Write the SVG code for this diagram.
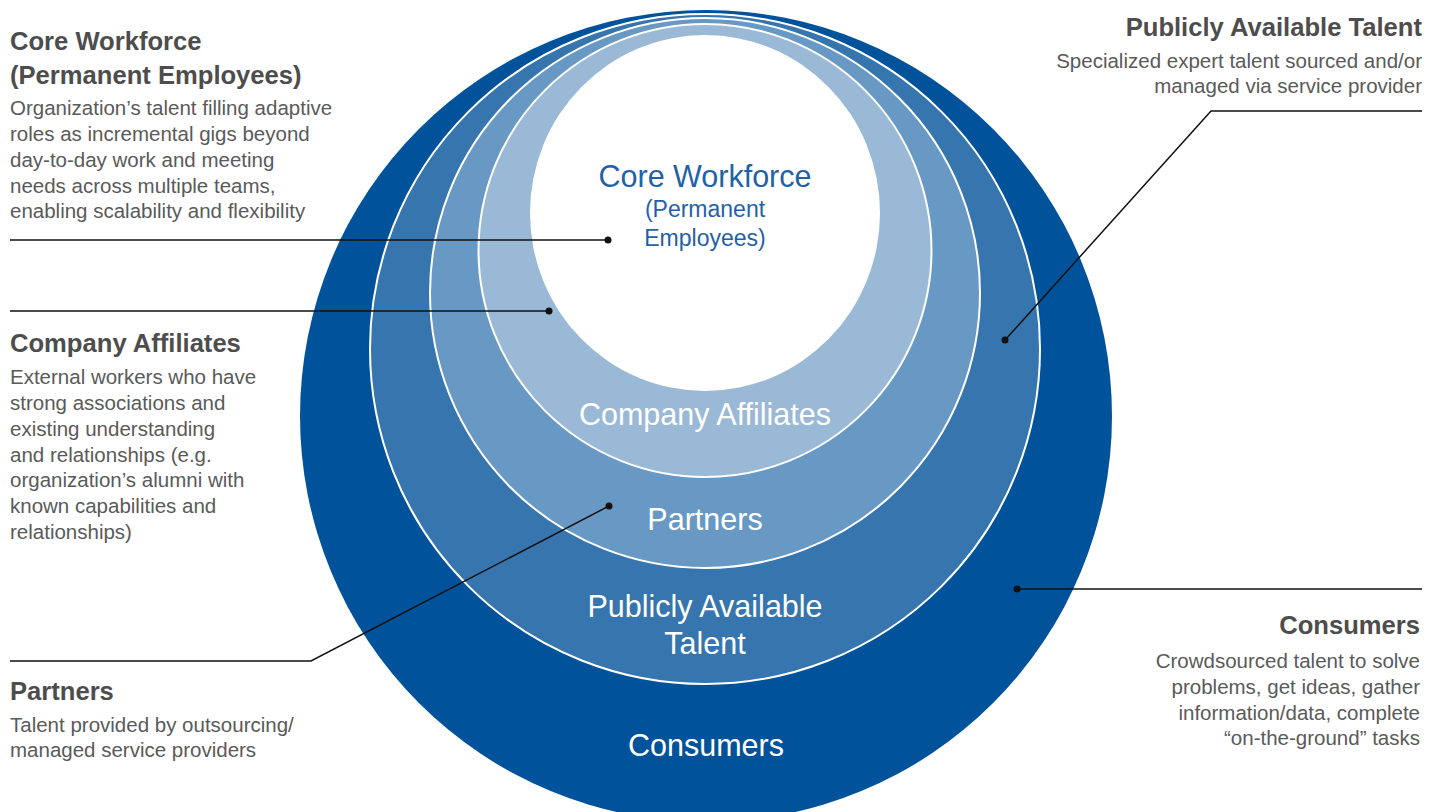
<svg xmlns="http://www.w3.org/2000/svg" width="1440" height="812" viewBox="0 0 1440 812">
<style>
.ring{stroke:#ffffff;stroke-width:2}
.in{font-family:"Liberation Sans",Arial,sans-serif;fill:#ffffff;text-anchor:middle;font-size:30.5px}
.core{font-family:"Liberation Sans",Arial,sans-serif;fill:#1f62a8;text-anchor:middle}
.h{font-family:"Liberation Sans",Arial,sans-serif;font-weight:bold;font-size:25.6px;fill:#4d4d4d}
.b{font-family:"Liberation Sans",Arial,sans-serif;font-size:20.5px;fill:#5a5a5a}
.r{text-anchor:end}
.ln{fill:none;stroke:#111111;stroke-width:1.5}
.dot{fill:#111111}
</style>
<rect width="1440" height="812" fill="#ffffff"/>
<g id="consumers">
<circle cx="706" cy="416" r="406" fill="#00539b"/>
<text class="in" x="706" y="756">Consumers</text>
</g>
<g id="publicly-available-talent">
<circle class="ring" cx="705" cy="349" r="335" fill="#3675ad"/>
<text class="in" x="705" y="617">Publicly Available</text>
<text class="in" x="705" y="654">Talent</text>
</g>
<g id="partners">
<circle class="ring" cx="705" cy="293" r="275" fill="#6898c4"/>
<text class="in" x="705" y="530">Partners</text>
</g>
<g id="company-affiliates">
<circle class="ring" cx="705" cy="250.5" r="226.5" fill="#9ab9d6"/>
<text class="in" x="705" y="425">Company Affiliates</text>
</g>
<g id="core-workforce">
<ellipse cx="705" cy="213" rx="175" ry="178" fill="#ffffff"/>
<text class="core" x="705" y="187" font-size="30.5">Core Workforce</text>
<text class="core" x="705" y="217" font-size="23">(Permanent</text>
<text class="core" x="705" y="246" font-size="23">Employees)</text>
</g>
<g id="connectors">
<polyline class="ln" points="10,240 608,240"/>
<circle class="dot" cx="608" cy="240" r="3.5"/>
<polyline class="ln" points="10,311 549,311"/>
<circle class="dot" cx="549" cy="311" r="3.5"/>
<polyline class="ln" points="10,661 311,661 609,506"/>
<circle class="dot" cx="609" cy="506" r="3.5"/>
<polyline class="ln" points="1422,111 1211,111 1005,340"/>
<circle class="dot" cx="1005" cy="340" r="3.5"/>
<polyline class="ln" points="1422,589 1017,589"/>
<circle class="dot" cx="1017" cy="589" r="3.5"/>
</g>
<g id="label-core-workforce">
<text class="h" x="10" y="50">Core Workforce</text>
<text class="h" x="10" y="84">(Permanent Employees)</text>
<text class="b" x="10" y="115">Organization’s talent filling adaptive</text>
<text class="b" x="10" y="141">roles as incremental gigs beyond</text>
<text class="b" x="10" y="167">day-to-day work and meeting</text>
<text class="b" x="10" y="193">needs across multiple teams,</text>
<text class="b" x="10" y="218">enabling scalability and flexibility</text>
</g>
<g id="label-company-affiliates">
<text class="h" x="10" y="352">Company Affiliates</text>
<text class="b" x="10" y="384">External workers who have</text>
<text class="b" x="10" y="410">strong associations and</text>
<text class="b" x="10" y="436">existing understanding</text>
<text class="b" x="10" y="462">and relationships (e.g.</text>
<text class="b" x="10" y="487">organization’s alumni with</text>
<text class="b" x="10" y="513">known capabilities and</text>
<text class="b" x="10" y="539">relationships)</text>
</g>
<g id="label-partners">
<text class="h" x="10" y="700">Partners</text>
<text class="b" x="10" y="732">Talent provided by outsourcing/</text>
<text class="b" x="10" y="757">managed service providers</text>
</g>
<g id="label-publicly-available-talent">
<text class="h r" x="1422" y="36">Publicly Available Talent</text>
<text class="b r" x="1422" y="68">Specialized expert talent sourced and/or</text>
<text class="b r" x="1422" y="93">managed via service provider</text>
</g>
<g id="label-consumers">
<text class="h r" x="1420" y="634">Consumers</text>
<text class="b r" x="1420" y="668">Crowdsourced talent to solve</text>
<text class="b r" x="1420" y="694">problems, get ideas, gather</text>
<text class="b r" x="1420" y="720">information/data, complete</text>
<text class="b r" x="1420" y="745">“on-the-ground” tasks</text>
</g>
</svg>
